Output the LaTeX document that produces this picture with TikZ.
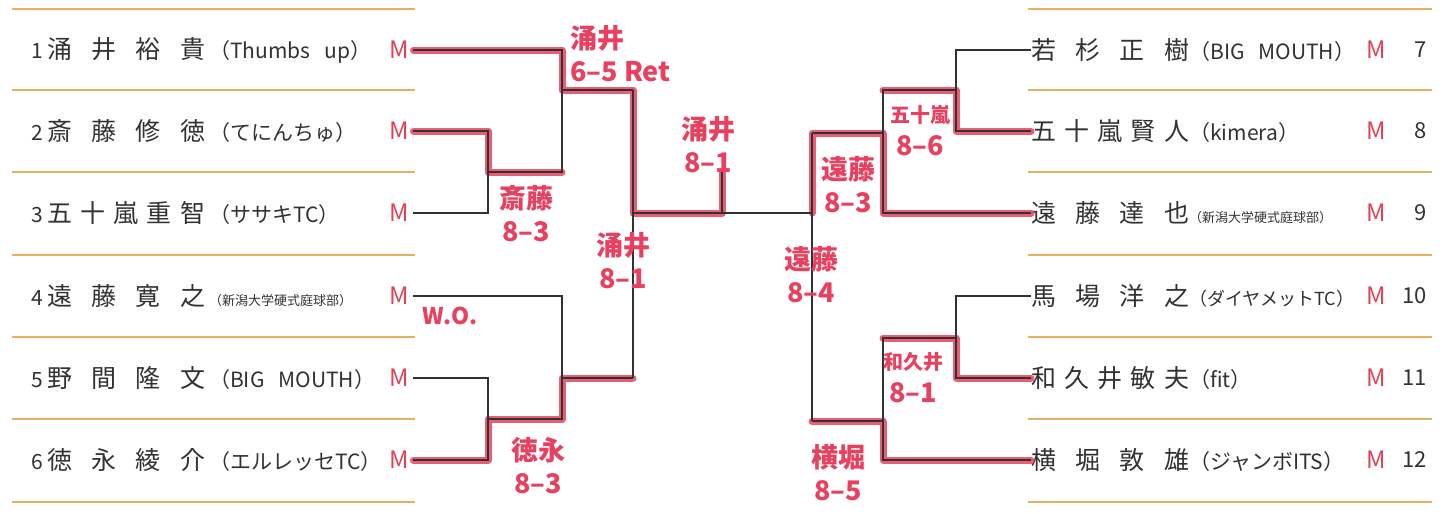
\documentclass[tikz,border=0pt]{standalone}
\usepackage{fontspec}
\setmainfont{Noto Sans CJK JP}
\usetikzlibrary{positioning}

\definecolor{rulecol}{RGB}{230,176,100}
\definecolor{ink}{RGB}{50,50,50}
\definecolor{mred}{RGB}{224,66,84}
\definecolor{pen}{RGB}{232,64,94}

\newcommand{\nm}[1]{\makebox[158pt][s]{#1}}
\newcommand{\tm}{\fontsize{21}{24}\selectfont}
\newcommand{\club}{\fontsize{13}{15}\selectfont}

\begin{document}
\begin{tikzpicture}[x=1pt, y=-1pt,
    font=\fontsize{25}{28}\selectfont, text=ink,
    entry/.style={anchor=west, inner sep=0pt},
    seat/.style={anchor=west, inner sep=0pt, outer xsep=5pt, text=mred, font=\fontsize{24}{26}\selectfont},
    seatno/.style={anchor=east, inner sep=0pt, font=\fontsize{22}{24}\selectfont},
    wire/.style={draw=ink, line width=1.5pt},
    win/.style={draw=pen, line width=7pt, line cap=round, line join=round, opacity=0.85},
    note/.style={text=pen, align=center, inner sep=0pt, font=\bfseries\fontsize{27}{33}\selectfont},
    rule/.style={draw=rulecol, line width=1.5pt}
  ]
  \useasboundingbox[fill=white] (0,0) rectangle (1446,514);

  % separator rules
  \foreach \y in {9,90,172,255,337,419,502} {
    \draw[rule] (12,\y) -- (415,\y);
    \draw[rule] (1028,\y) -- (1432,\y);
  }

  % left players
  \node[entry] (p1) at (31,50) {\makebox[16pt][l]{\tm 1}\nm{涌 井 裕 貴}\hspace{4pt}{\tm （Thumbs\hspace{14pt}up）}};
  \node[entry] (p2) at (31,131) {\makebox[16pt][l]{\tm 2}\nm{斎 藤 修 徳}\hspace{4pt}{\tm （てにんちゅ）}};
  \node[entry] (p3) at (31,213) {\makebox[16pt][l]{\tm 3}\nm{五 十 嵐 重 智}\hspace{4pt}{\tm （ササキTC）}};
  \node[entry] (p4) at (31,296) {\makebox[16pt][l]{\tm 4}\nm{遠 藤 寛 之}\hspace{4pt}{\club （新潟大学硬式庭球部）}};
  \node[entry] (p5) at (31,378) {\makebox[16pt][l]{\tm 5}\nm{野 間 隆 文}\hspace{4pt}{\tm （BIG\hspace{14pt}MOUTH）}};
  \node[entry] (p6) at (31,460) {\makebox[16pt][l]{\tm 6}\nm{徳 永 綾 介}\hspace{4pt}{\tm （エルレッセTC）}};

  \node[seat] (m1) at (384,50) {M};
  \node[seat] (m2) at (384,131) {M};
  \node[seat] (m3) at (384,213) {M};
  \node[seat] (m4) at (384,296) {M};
  \node[seat] (m5) at (384,378) {M};
  \node[seat] (m6) at (384,460) {M};

  % right players
  \node[entry] (p7) at (1031,50) {\nm{若 杉 正 樹}{\tm （BIG\hspace{14pt}MOUTH）}};
  \node[entry] (p8) at (1031,131) {\nm{五 十 嵐 賢 人}{\tm （kimera）}};
  \node[entry] (p9) at (1031,213) {\nm{遠 藤 達 也}{\club （新潟大学硬式庭球部）}};
  \node[entry] (p10) at (1031,296) {\nm{馬 場 洋 之}{\fontsize{18}{20}\selectfont （ダイヤメットTC）}};
  \node[entry] (p11) at (1031,378) {\nm{和 久 井 敏 夫}{\tm （fit）}};
  \node[entry] (p12) at (1031,460) {\nm{横 堀 敦 雄}{\tm （ジャンボITS）}};

  \node[seat, outer xsep=0pt] (m7) at (1366,50) {M};
  \node[seat, outer xsep=0pt] (m8) at (1366,131) {M};
  \node[seat, outer xsep=0pt] (m9) at (1366,213) {M};
  \node[seat, outer xsep=0pt] (m10) at (1366,296) {M};
  \node[seat, outer xsep=0pt] (m11) at (1366,378) {M};
  \node[seat, outer xsep=0pt] (m12) at (1366,460) {M};
  \node[seatno] (n7) at (1427,50) {7};
  \node[seatno] (n8) at (1427,131) {8};
  \node[seatno] (n9) at (1427,213) {9};
  \node[seatno] (n10) at (1427,296) {10};
  \node[seatno] (n11) at (1427,378) {11};
  \node[seatno] (n12) at (1427,460) {12};

  % bracket junctions
  \coordinate (a1) at (488,172);
  \coordinate (a2) at (488,419);
  \coordinate (b1) at (562,90);
  \coordinate (b2) at (562,378);
  \coordinate (c) at (633,213);
  \coordinate (fin) at (722,213);
  \coordinate (top) at (722,172);
  \coordinate (ra1) at (956,90);
  \coordinate (ra2) at (956,338);
  \coordinate (rb1) at (883,133);
  \coordinate (rb2) at (883,421);
  \coordinate (rc) at (812,213);

  % winners in red marker
  \draw[win] (m1.east) -| (b1) -| (c) -- (fin) -- (top);
  \draw[win] (m2.east) -| (a1) -- (a1 -| b1);
  \draw[win] (m6.east) -| (a2) -- (a2 -| b2) -- (b2) -- (b2 -| c);
  \draw[win] (p8.west) -| (ra1) -- (ra1 -| rb1);
  \draw[win] (p9.west) -| (rb1) -- (rb1 -| rc) -- (rc);
  \draw[win] (p11.west) -| (ra2) -- (ra2 -| rb2);
  \draw[win] (p12.west) -| (rb2) -- (rb2 -| rc);

  % left half
  \draw[wire] (m1.east) -| (a1 -| b1) -- (a1);
  \draw[wire] (m2.east) -| (m3.east -| a1) -- (m3.east);
  \draw[wire] (b1) -- (b1 -| c);
  \draw[wire] (m4.east) -| (a2 -| b2) -- (a2);
  \draw[wire] (m5.east) -| (m6.east -| a2) -- (m6.east);
  \draw[wire] (b2) -- (b2 -| c);
  \draw[wire] (b1 -| c) -- (b2 -| c);
  \draw[wire] (c) -- (rc);
  \draw[wire] (fin) -- (top);

  % right half
  \draw[wire] (p7.west) -| (p8.west -| ra1) -- (p8.west);
  \draw[wire] (ra1) -- (ra1 -| rb1) |- (p9.west);
  \draw[wire] (rb1) -- (rb1 -| rc);
  \draw[wire] (p10.west) -| (p11.west -| ra2) -- (p11.west);
  \draw[wire] (ra2) -- (ra2 -| rb2) |- (p12.west);
  \draw[wire] (rb2) -- (rb2 -| rc);
  \draw[wire] (rb1 -| rc) -- (rb2 -| rc);

  % scores written by hand
  \node[note, align=left, anchor=north west] (sc1) at (570,25) {涌井\\6–5 Ret};
  \node[note] (sc23) at (526,214) {斎藤\\8–3};
  \node[note] (scf) at (708,145) {涌井\\8–1};
  \node[note] (scl) at (623,261) {涌井\\8–1};
  \node[note, font=\bfseries\fontsize{23}{26}\selectfont] (wo4) at (450,316) {W.O.};
  \node[note] (sc56) at (538,466) {徳永\\8–3};
  \node[note] (sc9) at (848,185) {遠藤\\8–3};
  \node[note, font=\bfseries\fontsize{20}{33}\selectfont] (sc78) at (920,131) {五十嵐\\{\fontsize{27}{27}\selectfont 8–6}};
  \node[note] (scr) at (811,275) {遠藤\\8–4};
  \node[note, font=\bfseries\fontsize{20}{33}\selectfont] (sc1011) at (913,378) {和久井\\{\fontsize{27}{27}\selectfont 8–1}};
  \node[note] (sc12) at (838,473) {横堀\\8–5};
\end{tikzpicture}
\end{document}
